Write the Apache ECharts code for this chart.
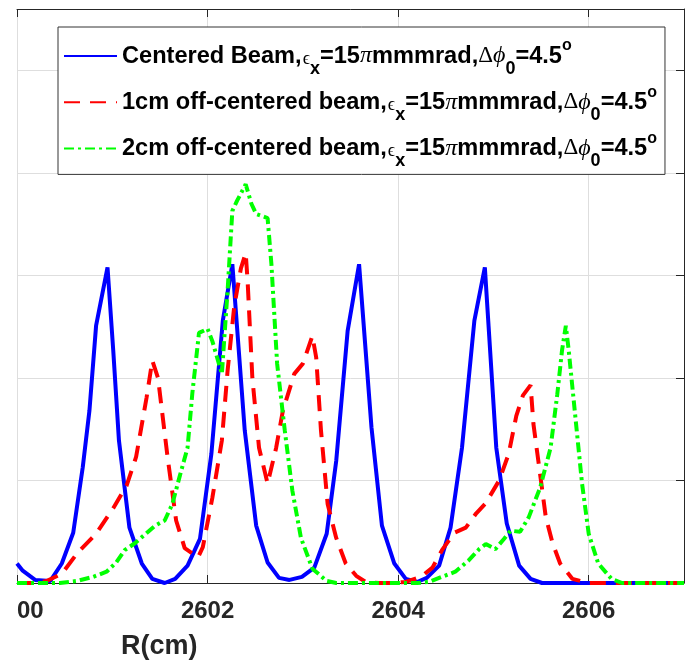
<!DOCTYPE html>
<html>
<head>
<meta charset="utf-8">
<script src="https://cdn.jsdelivr.net/npm/echarts@6/dist/echarts.min.js"></script>
<style>
html,body{margin:0;padding:0;background:#fff;}
#chart{width:685px;height:666px;}
</style>
</head>
<body>
<div id="chart"></div>
<script>
// R (cm) positions and particle distribution values (arbitrary units, 1 per grid line)
var blueR = [2600.00,2600.06,2600.19,2600.35,2600.47,2600.59,2600.69,2600.76,2600.83,2600.95,
  2601.01,2601.07,2601.18,2601.31,2601.42,2601.55,2601.66,2601.79,2601.92,
  2602.04,2602.16,2602.26,2602.39,2602.51,2602.63,2602.75,2602.86,2602.99,
  2603.12,2603.25,2603.35,2603.47,2603.59,2603.72,2603.83,2603.96,
  2604.08,2604.20,2604.30,2604.43,2604.55,2604.67,2604.80,2604.91,
  2605.03,2605.14,2605.27,2605.39,2605.51,2606.00,2607.00];
var blueN = [0.19,0.12,0.03,0.02,0.19,0.49,1.13,1.68,2.51,3.08,
  2.27,1.39,0.54,0.19,0.04,0.00,0.04,0.17,0.43,
  1.26,2.56,3.11,1.49,0.56,0.20,0.05,0.03,0.06,
  0.15,0.48,1.19,2.46,3.11,1.52,0.56,0.19,
  0.04,0.01,0.05,0.17,0.54,1.32,2.56,3.08,
  1.32,0.58,0.17,0.04,0.00,0.00,0.00];

var redR = [2600.00,2600.19,2600.31,2600.47,2600.64,2600.83,
  2601.01,2601.15,2601.25,2601.36,2601.42,2601.48,2601.58,2601.67,2601.76,2601.90,2601.95,
  2602.05,2602.15,2602.21,2602.28,2602.35,2602.40,2602.42,2602.47,2602.54,2602.63,2602.72,2602.79,2602.91,
  2603.00,2603.10,2603.14,2603.19,2603.26,2603.35,2603.45,2603.56,2603.66,2603.80,2603.94,
  2604.08,2604.24,2604.36,2604.46,2604.59,2604.71,2604.82,2604.92,
  2605.06,2605.16,2605.24,2605.31,2605.39,2605.42,2605.48,2605.55,2605.62,2605.70,2605.83,
  2606.00,2607.00];
var redN = [0.00,0.00,0.02,0.09,0.30,0.48,
  0.73,0.95,1.23,1.81,2.17,2.00,1.23,0.61,0.34,0.25,0.35,
  0.83,1.39,2.07,2.70,3.07,3.22,2.95,2.00,1.32,0.97,1.32,1.68,2.04,
  2.14,2.41,2.20,1.49,0.77,0.44,0.19,0.07,0.01,0.00,0.00,
  0.01,0.06,0.15,0.32,0.49,0.54,0.68,0.78,
  1.00,1.26,1.63,1.83,1.93,1.55,1.13,0.64,0.39,0.19,0.04,
  0.00,0.00];

var greenR = [2600.00,2600.21,2600.45,2600.63,2600.80,2600.94,
  2601.04,2601.13,2601.24,2601.45,2601.55,2601.63,2601.71,2601.79,2601.84,2601.91,
  2602.00,2602.05,2602.15,2602.21,2602.26,2602.31,2602.40,2602.46,2602.51,2602.63,2602.67,2602.73,2602.81,2602.89,2602.98,
  2603.10,2603.25,2603.35,
  2604.20,2604.32,2604.46,2604.60,2604.74,2604.85,2604.92,
  2605.02,2605.11,2605.18,2605.28,2605.37,2605.49,2605.60,2605.67,2605.72,2605.76,2605.79,2605.86,2605.93,
  2606.00,2606.10,2606.24,2606.35,2607.00];
var greenN = [0.00,0.00,0.00,0.02,0.06,0.11,
  0.20,0.32,0.39,0.56,0.61,0.77,1.05,1.32,1.85,2.44,
  2.48,2.36,2.04,2.85,3.63,3.73,3.89,3.70,3.60,3.56,3.11,2.14,1.49,0.90,0.44,
  0.14,0.02,0.00,
  0.00,0.01,0.06,0.11,0.22,0.33,0.38,
  0.33,0.43,0.51,0.50,0.64,0.93,1.32,1.84,2.27,2.51,2.27,1.62,0.97,
  0.48,0.19,0.04,0.00,0.00];

var seriesNames = ['blue', 'red', 'green'];
var legendTexts = [
  '{m|Centered Beam,}{eps|ϵ}{sub|x}{m|=15}{gi|π}{m|mmmrad,}{gu|Δ}{gi|ϕ}{sub|0}{m|=4.5}{sup|o}',
  '{m|1cm off-centered beam,}{eps|ϵ}{sub|x}{m|=15}{gi|π}{m|mmmrad,}{gu|Δ}{gi|ϕ}{sub|0}{m|=4.5}{sup|o}',
  '{m|2cm off-centered beam,}{eps|ϵ}{sub|x}{m|=15}{gi|π}{m|mmmrad,}{gu|Δ}{gi|ϕ}{sub|0}{m|=4.5}{sup|o}'
];
var xTicks = {min: 2600, max: 2607, interval: 2};
var yTicks = {min: 0, max: 5.6, interval: 1};

function zip(a, b) { return a.map(function (v, i) { return [v, b[i]]; }); }

var FONT = '"Liberation Sans", Arial, Helvetica, sans-serif';
var SERIF = '"Liberation Serif", "DejaVu Serif", serif';
var AX = '#262626';
var FS = 23.6;
var chart = echarts.init(document.getElementById('chart'), null, {renderer: 'canvas'});

var baseX = {type: 'value', min: xTicks.min, max: xTicks.max, interval: xTicks.interval};
var baseY = {type: 'value', min: yTicks.min, max: yTicks.max, interval: yTicks.interval};

var option = {
  animation: false,
  backgroundColor: '#ffffff',
  grid: {left: 17, right: 1, top: 9, bottom: 83, containLabel: false, outerBoundsMode: 'none'},
  xAxis: [
    Object.assign({}, baseX, {
      position: 'bottom',
      axisLine: {show: true, onZero: false, lineStyle: {color: AX, width: 1}},
      axisTick: {show: true, inside: true, length: 8, lineStyle: {color: AX}},
      axisLabel: {show: true, margin: 16, color: AX, fontFamily: FONT, fontWeight: 'bold', fontSize: 24,
                  showMaxLabel: false, showMinLabel: true, hideOverlap: false,
                  formatter: function (v) { return String(v); }},
      splitLine: {show: true, lineStyle: {color: '#dedede', width: 1}}
    }),
    Object.assign({}, baseX, {
      position: 'top',
      axisLine: {show: true, onZero: false, lineStyle: {color: AX, width: 1}},
      axisTick: {show: true, inside: true, length: 8, lineStyle: {color: AX}},
      axisLabel: {show: false},
      splitLine: {show: false}
    })
  ],
  yAxis: [
    Object.assign({}, baseY, {
      position: 'left',
      axisLine: {show: false},
      axisTick: {show: false},
      axisLabel: {show: false},
      splitLine: {show: true, lineStyle: {color: '#dedede', width: 1}}
    }),
    Object.assign({}, baseY, {
      position: 'right',
      axisLine: {show: true, onZero: false, lineStyle: {color: AX, width: 1}},
      axisTick: {show: true, inside: true, length: 8, lineStyle: {color: AX}},
      axisLabel: {show: false},
      splitLine: {show: false}
    })
  ],
  legend: {
    orient: 'vertical',
    left: 58, top: 27,
    padding: [11, 8, 4, 5],
    itemGap: 6.2,
    itemWidth: 53, itemHeight: 2,
    itemStyle: {opacity: 0},
    backgroundColor: '#ffffff',
    borderColor: '#333333', borderWidth: 1,
    selectedMode: false,
    data: seriesNames,
    formatter: function (name) { return legendTexts[seriesNames.indexOf(name)]; },
    textStyle: {
      fontFamily: FONT, fontWeight: 'bold', fontSize: FS, color: '#000',
      rich: {
        m: {fontFamily: FONT, fontWeight: 'bold', fontSize: FS, color: '#000', height: 23},
        eps: {fontFamily: SERIF, fontWeight: 'normal', fontSize: 18, color: '#000', height: 18, padding: [6, 0, 0, 1]},
        sub: {fontFamily: FONT, fontWeight: 'bold', fontSize: 18, color: '#000', height: 18, padding: [26, 0, 0, 0]},
        gi: {fontFamily: SERIF, fontStyle: 'italic', fontWeight: 'normal', fontSize: 24, color: '#000', height: 24},
        gu: {fontFamily: SERIF, fontWeight: 'normal', fontSize: 23, color: '#000', height: 23},
        sup: {fontFamily: FONT, fontWeight: 'bold', fontSize: 16, color: '#000', height: 16, padding: [0, 0, 20, 0]}
      }
    }
  },
  graphic: [
    {type: 'rect', left: 0, top: 592, z: 100, shape: {width: 17, height: 36}, style: {fill: '#ffffff'}},
    {type: 'text', left: 121, top: 633, z: 100,
     style: {text: 'R(cm)', font: 'bold 27px ' + FONT, fill: AX}}
  ],
  series: [
    {name: 'blue', type: 'line', xAxisIndex: 0, yAxisIndex: 0, data: zip(blueR, blueN),
     symbol: 'none', smooth: false, color: '#0000ff',
     lineStyle: {color: '#0000ff', width: 4, type: 'solid'}},
    {name: 'red', type: 'line', xAxisIndex: 0, yAxisIndex: 0, data: zip(redR, redN),
     symbol: 'none', smooth: false, color: '#ff0000',
     lineStyle: {color: '#ff0000', width: 4, type: [16, 10]}},
    {name: 'green', type: 'line', xAxisIndex: 0, yAxisIndex: 0, data: zip(greenR, greenN),
     symbol: 'none', smooth: false, color: '#00ff00',
     lineStyle: {color: '#00ff00', width: 4, type: [10, 4, 3, 4]}}
  ]
};
chart.setOption(option);
</script>
</body>
</html>
